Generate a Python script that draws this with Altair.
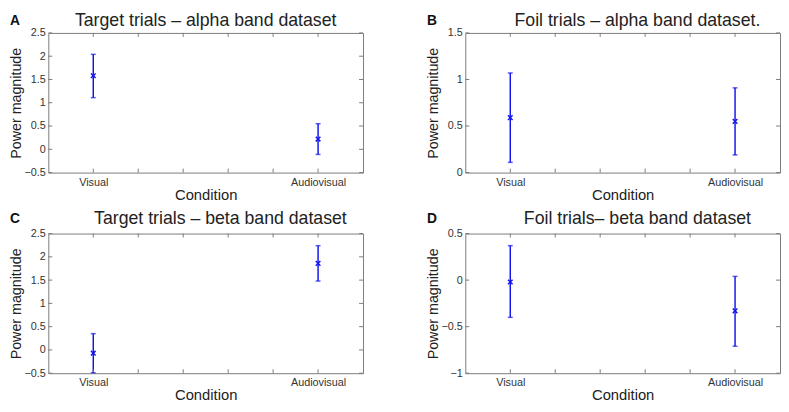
import json
import altair as alt
import pandas as pd

# ---------------- data ----------------
conditions = ["Visual", "Audiovisual"]
cond_pos = [1, 2]

panel_letters = ["A", "B", "C", "D"]
panel_titles = [
    "Target trials \u2013 alpha band dataset",
    "Foil trials \u2013 alpha band dataset.",
    "Target trials \u2013 beta band dataset",
    "Foil trials\u2013 beta band dataset",
]

means_A = [1.58, 0.22]
lower_A = [1.11, -0.11]
upper_A = [2.04, 0.55]

means_B = [0.59, 0.55]
lower_B = [0.11, 0.19]
upper_B = [1.07, 0.91]

means_C = [-0.07, 1.86]
lower_C = [-0.49, 1.48]
upper_C = [0.35, 2.24]

means_D = [-0.02, -0.33]
lower_D = [-0.40, -0.71]
upper_D = [0.37, 0.04]

x_domain = [0.8, 2.2]
x_ticks = [1.0, 1.2, 1.4, 1.6, 1.8, 2.0]

y_ticks_A = [-0.5, 0, 0.5, 1, 1.5, 2, 2.5]
y_ticks_B = [0, 0.5, 1, 1.5]
y_ticks_C = [-0.5, 0, 0.5, 1, 1.5, 2, 2.5]
y_ticks_D = [-1, -0.5, 0, 0.5]

# ---------------- style ----------------
FONT = "Liberation Sans"
BLUE = "#1515ee"
FRAME = "#7a7a7a"
W, H = 320, 142
TICK = 4


def panel(letter, title, means, lower, upper, yvals, dtop, title_dx):
    df = pd.DataFrame({"pos": cond_pos, "mean": means, "lo": lower, "hi": upper})
    xsc = alt.Scale(domain=x_domain, nice=False, zero=False)
    ysc = alt.Scale(domain=[yvals[0], yvals[-1]], nice=False, zero=False)

    xaxis = alt.Axis(
        values=cond_pos,
        labelExpr=f"{json.dumps(conditions)}[round(datum.value) - 1]",
        ticks=False, tickSize=0, domain=False, grid=False,
        labelFont=FONT, labelFontSize=11, labelColor="#333333",
        labelPadding=4, labelFlush=False,
        titleFont=FONT, titleFontSize=15, titleFontWeight="normal",
        titleColor="#222222", titlePadding=0,
    )
    yaxis = alt.Axis(
        values=yvals, format=".1~f",
        ticks=False, tickSize=0, domain=False, grid=False,
        labelFont=FONT, labelFontSize=11, labelColor="#333333",
        labelPadding=3, labelFlush=False,
        titleFont=FONT, titleFontSize=14.5, titleFontWeight="normal",
        titleColor="#222222", titleAngle=-90, titleAlign="center",
        titleBaseline="middle", titleX=-32, titleY=H / 2,
    )

    def X(field):
        return alt.X(field, scale=xsc, axis=xaxis, title="Condition")

    def Y(field):
        return alt.Y(field, scale=ysc, axis=yaxis, title="Power magnitude")

    base = alt.Chart(df)
    bars = base.mark_rule(color=BLUE, strokeWidth=1.5).encode(
        x=X("pos:Q"), y=Y("lo:Q"), y2="hi:Q"
    )
    cap_lo = base.mark_tick(orient="horizontal", size=5, thickness=1.5, color=BLUE).encode(
        x=X("pos:Q"), y=Y("lo:Q")
    )
    cap_hi = base.mark_tick(orient="horizontal", size=5, thickness=1.5, color=BLUE).encode(
        x=X("pos:Q"), y=Y("hi:Q")
    )
    marker = base.mark_point(
        shape="M-1,-1L1,1M-1,1L1,-1", size=22, filled=False,
        strokeWidth=1.5, color=BLUE, opacity=1,
    ).encode(x=X("pos:Q"), y=Y("mean:Q"))

    xt = alt.Chart(pd.DataFrame({"t": x_ticks}))
    yt = alt.Chart(pd.DataFrame({"t": yvals}))
    tx_bot = xt.mark_rule(color=FRAME, strokeWidth=1).encode(
        x=X("t:Q"), y=alt.value(H), y2=alt.value(H - TICK)
    )
    tx_top = xt.mark_rule(color=FRAME, strokeWidth=1).encode(
        x=X("t:Q"), y=alt.value(0), y2=alt.value(TICK)
    )
    ty_left = yt.mark_rule(color=FRAME, strokeWidth=1).encode(
        y=Y("t:Q"), x=alt.value(0), x2=alt.value(TICK)
    )
    ty_right = yt.mark_rule(color=FRAME, strokeWidth=1).encode(
        y=Y("t:Q"), x=alt.value(W - TICK), x2=alt.value(W)
    )

    ttl = alt.Chart(pd.DataFrame({"s": [title]})).mark_text(
        font=FONT, fontSize=18, color="#222222", align="center", baseline="alphabetic"
    ).encode(text="s:N", x=alt.value(W / 2 + title_dx), y=alt.value(-dtop))
    lab = alt.Chart(pd.DataFrame({"s": [letter]})).mark_text(
        font=FONT, fontSize=14, fontWeight="bold", color="#111111",
        align="left", baseline="alphabetic"
    ).encode(text="s:N", x=alt.value(-39), y=alt.value(-dtop - 1))

    return alt.layer(
        bars, tx_bot, tx_top, ty_left, ty_right, cap_lo, cap_hi, marker, ttl, lab
    ).properties(width=W, height=H)


pA = panel(panel_letters[0], panel_titles[0], means_A, lower_A, upper_A, y_ticks_A, 7, 0)
pB = panel(panel_letters[1], panel_titles[1], means_B, lower_B, upper_B, y_ticks_B, 7, 15)
pC = panel(panel_letters[2], panel_titles[2], means_C, lower_C, upper_C, y_ticks_C, 10, 15)
pD = panel(panel_letters[3], panel_titles[3], means_D, lower_D, upper_D, y_ticks_D, 10, 15)

row1 = alt.hconcat(pA, pB, spacing=62)
row2 = alt.hconcat(pC, pD, spacing=62)

chart = alt.vconcat(row1, row2, spacing=6).properties(
    padding=0, background="white"
).configure_view(stroke=FRAME, strokeWidth=1)

chart.save("out.html", embed_options={"renderer": "svg", "actions": False})
